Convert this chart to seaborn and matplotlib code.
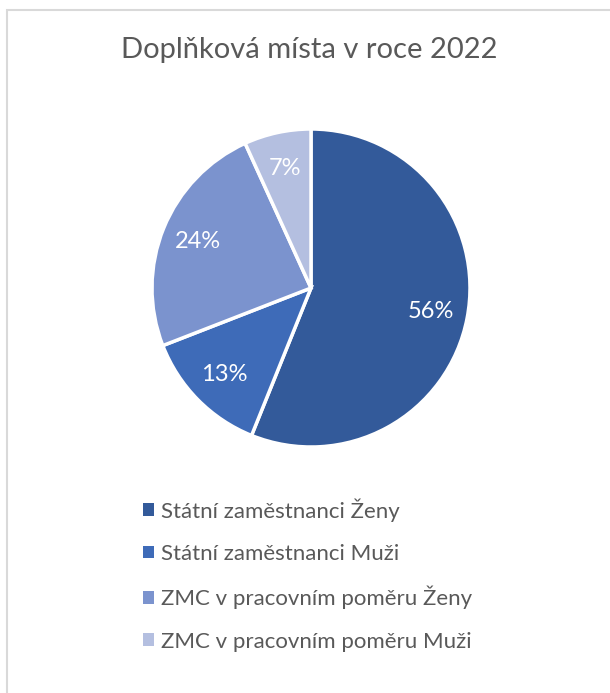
import matplotlib
matplotlib.use("Agg")
import matplotlib.pyplot as plt
import seaborn as sns
from matplotlib.patches import Rectangle, Patch

categories = ["Státní zaměstnanci Ženy", "Státní zaměstnanci Muži",
              "ZMC v pracovním poměru Ženy", "ZMC v pracovním poměru Muži"]
values = [56.1, 13.0, 24.1, 6.8]
colors = ["#335A9A", "#3E6BB8", "#7B93CE", "#B4BFE0"]
title = "Doplňková místa v roce 2022"

sns.set_theme(style="white")
plt.rcParams["font.family"] = ["Lato", "DejaVu Sans"]

fig = plt.figure(figsize=(6.10, 6.93), dpi=100)
fig.patch.set_facecolor("white")

# outer chart border (top and left visible)
fig.add_artist(Rectangle((7/610, -0.05), 1.2, 1 - 10/693 + 0.05,
                         transform=fig.transFigure, fill=False,
                         edgecolor="#D9D9D9", linewidth=1.5))

ax = fig.add_axes([152/610, 246/693, 318/610, 318/693])
wedges, texts, autotexts = ax.pie(
    values, colors=colors, startangle=90, counterclock=False,
    autopct=lambda p: f"{p:.0f}%", pctdistance=0.77,
    wedgeprops=dict(edgecolor="white", linewidth=2.5),
    textprops=dict(color="white", fontsize=17))
ax.set_xlim(-1, 1)
ax.set_ylim(-1, 1)
ax.set_aspect("equal")

fig.text(309/610, 1 - 50/693, title, ha="center", va="center",
         fontsize=21, color="#595959")

handles = [Patch(facecolor=c, edgecolor="none") for c in colors]
fig.legend(handles, categories, loc="upper left",
           bbox_to_anchor=(123/610, 1 - 478/693), frameon=False,
           fontsize=16, labelcolor="#595959", handlelength=0.5,
           handleheight=0.5, handletextpad=0.3, labelspacing=1.0)

fig.savefig("out.png", dpi=100, facecolor="white")
